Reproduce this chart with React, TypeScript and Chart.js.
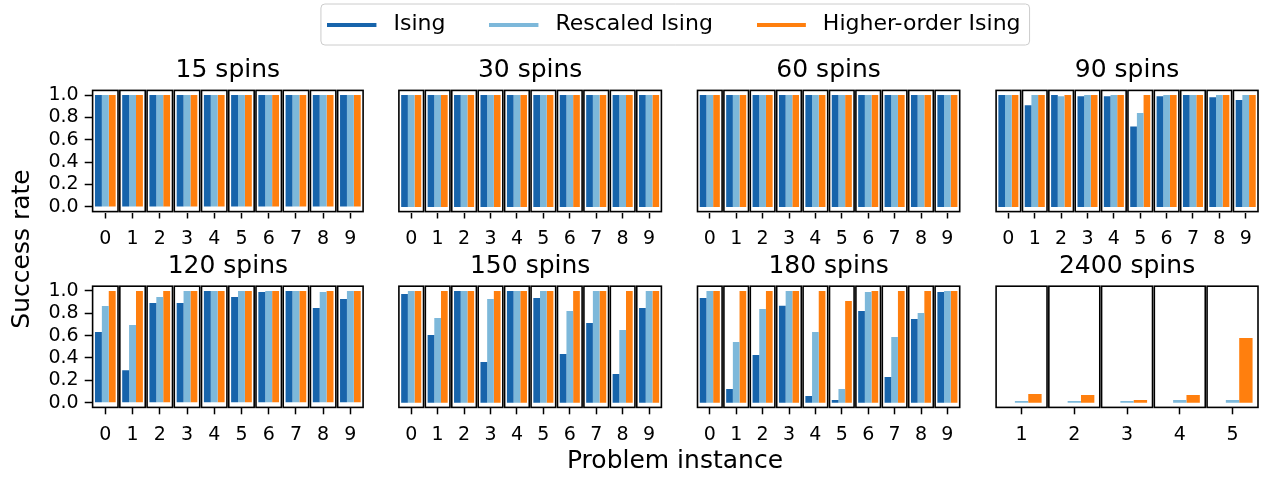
import React, { useEffect, useRef } from 'react';
import { Chart, registerables } from 'chart.js';

Chart.register(...registerables);
Chart.defaults.font.family = "'DejaVu Sans', 'Liberation Sans', sans-serif";
Chart.defaults.color = '#000';

// ---------------- data ----------------
const SERIES = ['Ising', 'Rescaled Ising', 'Higher-order Ising'];
const COLORS = ['#1764ab', '#7db8da', '#ff7f0e'];
const INSTANCES_10 = ['0', '1', '2', '3', '4', '5', '6', '7', '8', '9'];
const INSTANCES_5 = ['1', '2', '3', '4', '5'];
const Y_TICKS = [0, 0.2, 0.4, 0.6, 0.8, 1.0];
const Y_MIN = -0.05;
const Y_MAX = 1.05;
const Y_LABEL = 'Success rate';
const X_LABEL = 'Problem instance';

const ising15 = [1, 1, 1, 1, 1, 1, 1, 1, 1, 1];
const rescaled15 = [1, 1, 1, 1, 1, 1, 1, 1, 1, 1];
const higher15 = [1, 1, 1, 1, 1, 1, 1, 1, 1, 1];

const ising30 = [1, 1, 1, 1, 1, 1, 1, 1, 1, 1];
const rescaled30 = [1, 1, 1, 1, 1, 1, 1, 1, 1, 1];
const higher30 = [1, 1, 1, 1, 1, 1, 1, 1, 1, 1];

const ising60 = [1, 1, 1, 1, 1, 1, 1, 1, 1, 1];
const rescaled60 = [1, 1, 1, 1, 1, 1, 1, 1, 1, 1];
const higher60 = [1, 1, 1, 1, 1, 1, 1, 1, 1, 1];

const ising90 = [1.0, 0.91, 1.0, 0.99, 0.99, 0.72, 0.99, 1.0, 0.98, 0.955];
const rescaled90 = [1.0, 1.0, 0.99, 1.0, 1.0, 0.84, 1.0, 1.0, 1.0, 1.0];
const higher90 = [1, 1, 1, 1, 1, 1, 1, 1, 1, 1];

const ising120 = [0.632, 0.29, 0.892, 0.892, 1.0, 0.946, 0.991, 1.0, 0.847, 0.928];
const rescaled120 = [0.865, 0.695, 0.946, 1.0, 1.0, 1.0, 1.0, 1.0, 0.991, 1.0];
const higher120 = [1, 1, 1, 1, 1, 1, 1, 1, 1, 1];

const ising150 = [0.973, 0.606, 1.0, 0.364, 1.0, 0.937, 0.436, 0.713, 0.257, 0.848];
const rescaled150 = [1.0, 0.758, 1.0, 0.928, 1.0, 1.0, 0.821, 1.0, 0.651, 1.0];
const higher150 = [1, 1, 1, 1, 1, 1, 1, 1, 1, 1];

const ising180 = [0.937, 0.122, 0.427, 0.866, 0.06, 0.024, 0.821, 0.23, 0.749, 0.991];
const rescaled180 = [1.0, 0.543, 0.839, 1.0, 0.633, 0.122, 0.991, 0.588, 0.803, 1.0];
const higher180 = [1, 1, 1, 1, 1, 0.91, 1, 1, 1, 1];

const ising2400 = [0, 0, 0, 0, 0];
const rescaled2400 = [0.015, 0.015, 0.015, 0.024, 0.024];
const higher2400 = [0.078, 0.069, 0.024, 0.069, 0.579];

type PanelSpec = { title: string; labels: string[]; values: number[][]; row: number; col: number };

const PANELS: PanelSpec[] = [
  { title: '15 spins', labels: INSTANCES_10, values: [ising15, rescaled15, higher15], row: 0, col: 0 },
  { title: '30 spins', labels: INSTANCES_10, values: [ising30, rescaled30, higher30], row: 0, col: 1 },
  { title: '60 spins', labels: INSTANCES_10, values: [ising60, rescaled60, higher60], row: 0, col: 2 },
  { title: '90 spins', labels: INSTANCES_10, values: [ising90, rescaled90, higher90], row: 0, col: 3 },
  { title: '120 spins', labels: INSTANCES_10, values: [ising120, rescaled120, higher120], row: 1, col: 0 },
  { title: '150 spins', labels: INSTANCES_10, values: [ising150, rescaled150, higher150], row: 1, col: 1 },
  { title: '180 spins', labels: INSTANCES_10, values: [ising180, rescaled180, higher180], row: 1, col: 2 },
  { title: '2400 spins', labels: INSTANCES_5, values: [ising2400, rescaled2400, higher2400], row: 1, col: 3 },
];

// ---------------- layout ----------------
const FIG_W = 1263;
const FIG_H = 477;
const PANEL_LEFT0 = 91.7;
const PANEL_STEP = 298.3;
const PANEL_W = 272.3;
const PANEL_H = 123;
const ROW_TOPS = [89.5, 285.3];
const TITLE_PAD_TOP = 9;
const TITLE_PAD_BOTTOM = 3.8;
const TITLE_SIZE = 25;
const TITLE_SPACE = TITLE_SIZE * 1.2 + TITLE_PAD_TOP + TITLE_PAD_BOTTOM;
const XAXIS_H = 42;
const TICK_SIZE = 19;
const LEGEND_SIZE = 22;
const LEGEND_HANDLE = 49;
const LEGEND_TEXT_GAP = 17;
const LEGEND_COL_GAP = 44;
const LABEL_SIZE = 25;
const LEGEND_OFFSET = 31; // overlay canvas shifted up by this much

function geometry(row: number, col: number) {
  const chartL = PANEL_LEFT0 + PANEL_STEP * col;
  const chartT = ROW_TOPS[row];
  const x = col === 0 ? 0 : Math.floor(chartL - 8);
  const y = Math.floor(chartT - TITLE_SPACE);
  const w = Math.ceil(chartL + PANEL_W + 6 - x);
  const h = Math.ceil(chartT + PANEL_H + XAXIS_H - y);
  return {
    x, y, w, h,
    padLeft: col === 0 ? 0 : chartL - x,
    padTop: chartT - TITLE_SPACE - y,
    padRight: x + w - (chartL + PANEL_W),
    padBottom: y + h - (chartT + PANEL_H + XAXIS_H),
    yAxisW: chartL - x,
  };
}

// draws a framed box around each problem instance
const instanceBoxes = {
  id: 'instanceBoxes',
  afterDatasetsDraw(chart: any) {
    const { ctx, chartArea } = chart;
    const xs = chart.scales.x;
    const n = chart.data.labels.length;
    const w = chartArea.width / n;
    ctx.save();
    ctx.strokeStyle = '#000';
    ctx.lineWidth = 1.6;
    for (let i = 0; i < n; i++) {
      const c = xs.getPixelForValue(i);
      ctx.strokeRect(c - w / 2 + 0.9, chartArea.top + 0.9, w - 1.8, chartArea.height - 1.8);
    }
    ctx.restore();
  },
};

function Panel({ spec }: { spec: PanelSpec }) {
  const ref = useRef<HTMLCanvasElement>(null);
  const g = geometry(spec.row, spec.col);
  useEffect(() => {
    const showY = spec.col === 0;
    const chart = new Chart(ref.current as HTMLCanvasElement, {
      type: 'bar',
      data: {
        labels: spec.labels,
        datasets: SERIES.map((s, i) => ({
          label: s,
          data: spec.values[i],
          backgroundColor: COLORS[i],
          borderWidth: 0,
          categoryPercentage: 0.76,
          barPercentage: 1.0,
        })),
      },
      options: {
        responsive: false,
        animation: false,
        devicePixelRatio: 1,
        events: [],
        layout: { padding: { left: g.padLeft, top: g.padTop, right: g.padRight, bottom: g.padBottom } },
        plugins: {
          legend: { display: false },
          tooltip: { enabled: false },
          title: {
            display: true,
            fullSize: false,
            text: spec.title,
            color: '#000',
            font: { size: TITLE_SIZE, weight: 'normal' },
            padding: { top: TITLE_PAD_TOP, bottom: TITLE_PAD_BOTTOM },
          },
        },
        scales: {
          x: {
            type: 'category',
            offset: true,
            border: { display: false },
            grid: {
              display: true,
              offset: false,
              drawOnChartArea: false,
              drawTicks: true,
              tickLength: 6,
              tickWidth: 1.5,
              tickColor: '#000',
              color: '#000',
            },
            ticks: {
              color: '#000',
              font: { size: TICK_SIZE },
              padding: 9,
              autoSkip: false,
              maxRotation: 0,
              minRotation: 0,
            },
            afterFit: (s: any) => { s.height = XAXIS_H; },
          },
          y: {
            type: 'linear',
            display: showY,
            min: Y_MIN,
            max: Y_MAX,
            border: { display: false },
            grid: {
              display: true,
              drawOnChartArea: false,
              drawTicks: true,
              tickLength: 7,
              tickWidth: 1.5,
              tickColor: '#000',
              color: '#000',
            },
            ticks: {
              color: '#000',
              font: { size: TICK_SIZE },
              padding: 6,
              autoSkip: false,
              callback: (v: any) => Number(v).toFixed(1),
            },
            afterBuildTicks: (axis: any) => { axis.ticks = Y_TICKS.map((v) => ({ value: v })); },
            afterFit: (s: any) => { s.width = g.yAxisW; },
          },
        },
      },
      plugins: [instanceBoxes],
    } as any);
    return () => chart.destroy();
  }, []);
  return (
    <canvas
      ref={ref}
      width={g.w}
      height={g.h}
      style={{ position: 'absolute', left: g.x, top: g.y, width: g.w, height: g.h }}
    />
  );
}

// legend frame + figure-level axis labels
const figureDecor = {
  id: 'figureDecor',
  beforeDraw(chart: any) {
    const boxes = chart.legend && chart.legend.legendHitBoxes;
    if (!boxes || !boxes.length) return;
    const { ctx } = chart;
    const first = boxes[0];
    const last = boxes[boxes.length - 1];
    const midY = first.top + first.height / 2;
    const left = first.left - 6.5;
    const right = last.left + last.width + 9;
    ctx.save();
    ctx.beginPath();
    ctx.roundRect(left, midY - 20.5, right - left, 41, 4);
    ctx.fillStyle = 'rgba(255,255,255,0.8)';
    ctx.fill();
    ctx.strokeStyle = '#cccccc';
    ctx.lineWidth = 1;
    ctx.stroke();
    ctx.restore();
  },
  afterDraw(chart: any) {
    const { ctx } = chart;
    ctx.save();
    ctx.fillStyle = '#000';
    ctx.font = `${LABEL_SIZE}px 'DejaVu Sans'`;
    ctx.textAlign = 'center';
    ctx.textBaseline = 'middle';
    ctx.fillText(X_LABEL, 675, 461 + LEGEND_OFFSET);
    ctx.translate(22.6, 249 + LEGEND_OFFSET);
    ctx.rotate(-Math.PI / 2);
    ctx.fillText(Y_LABEL, 0, 0);
    ctx.restore();
  },
};

function Overlay() {
  const ref = useRef<HTMLCanvasElement>(null);
  useEffect(() => {
    const swatchW = Math.round(LEGEND_HANDLE + LEGEND_TEXT_GAP - LEGEND_SIZE / 2);
    const swatches = COLORS.map((c) => {
      const cv = document.createElement('canvas');
      cv.width = swatchW;
      cv.height = 4;
      const cx = cv.getContext('2d') as CanvasRenderingContext2D;
      cx.fillStyle = c;
      cx.fillRect(0, 0, LEGEND_HANDLE, 4);
      return cv;
    });
    const chart = new Chart(ref.current as HTMLCanvasElement, {
      type: 'bar',
      data: {
        labels: [],
        datasets: SERIES.map((s, i) => ({ label: s, data: [], backgroundColor: COLORS[i] })),
      },
      options: {
        responsive: false,
        animation: false,
        devicePixelRatio: 1,
        events: [],
        layout: { padding: { left: 85, top: 0.5, right: 0, bottom: 0 } },
        scales: { x: { display: false }, y: { display: false } },
        plugins: {
          tooltip: { enabled: false },
          title: { display: false },
          legend: {
            display: true,
            position: 'top',
            labels: {
              usePointStyle: true,
              pointStyleWidth: swatchW,
              padding: LEGEND_COL_GAP,
              color: '#000',
              font: { size: LEGEND_SIZE },
              generateLabels: (c: any) =>
                c.data.datasets.map((ds: any, i: number) => ({
                  text: ds.label,
                  fillStyle: COLORS[i],
                  strokeStyle: COLORS[i],
                  lineWidth: 0,
                  pointStyle: swatches[i],
                  fontColor: '#000',
                  hidden: false,
                  datasetIndex: i,
                })),
            },
          },
        },
      },
      plugins: [figureDecor],
    } as any);
    return () => chart.destroy();
  }, []);
  return (
    <canvas
      ref={ref}
      width={FIG_W}
      height={FIG_H + LEGEND_OFFSET}
      style={{ position: 'absolute', left: 0, top: -LEGEND_OFFSET, width: FIG_W, height: FIG_H + LEGEND_OFFSET }}
    />
  );
}

export default function App() {
  return (
    <div
      style={{
        position: 'absolute',
        left: 0,
        top: 0,
        width: FIG_W,
        height: FIG_H,
        overflow: 'hidden',
        background: '#fff',
      }}
    >
      <Overlay />
      {PANELS.map((p) => (
        <Panel key={p.title} spec={p} />
      ))}
    </div>
  );
}
